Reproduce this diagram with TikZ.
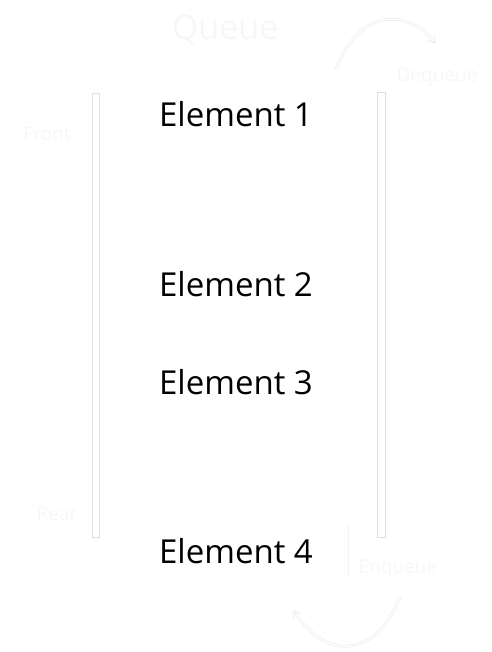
\documentclass[tikz,border=0pt]{standalone}
\usepackage{fontspec}
\setmainfont{Open Sans}
\usetikzlibrary{arrows.meta}
\tikzset{
  elem/.style={font=\fontsize{33}{40}\selectfont,text=black},
  faint/.style={font=\fontsize{19}{23}\selectfont,text=black!3},
  wall/.style={draw=black!13,fill=white,line width=0.7pt},
  flow/.style={draw=black!10,double=white,double distance=1.6pt,line width=0.5pt,-{Straight Barb[length=6pt,width=10pt]}}
}
\begin{document}
\begin{tikzpicture}[x=1pt,y=-1pt]
    \useasboundingbox (0,0) rectangle (491,652);
    \coordinate (O) at (0,0);

    % the two walls of the tube
    \draw[wall] (92,93) rectangle (99,537);
    \draw[wall] (377,92) rectangle (385,537);

    % elements
    \node[elem] (e1) at (236,114) {Element 1};
    \node[elem] (e2) at (236,284) {Element 2};
    \node[elem] (e3) at (236,382) {Element 3};
    \node[elem] (e4) at (236,551) {Element 4};

    % labels
    \node[faint,font=\fontsize{34}{40}\selectfont] (title) at (225,30) {Queue};
    \node[faint] (deq) at (437,77) {Dequeue};
    \node[faint] (enq) at (398,569) {Enqueue};
    \node[faint] (front) at (47,134) {Front};
    \node[faint] (rear) at (57,514) {Rear};

    % arrows in and out
    \coordinate (a1) at (336,70);
    \coordinate (a2) at (435,43);
    \coordinate (b1) at (400,597);
    \coordinate (b2) at (294,611);
    \draw[flow] (a1) .. controls (360,5) and (410,10) .. (a2);
    \draw[flow] (b1) .. controls (375,660) and (325,660) .. (b2);

    \draw[black!5,line width=0.6pt] (348,523) -- (348,575);
  \end{tikzpicture}
\end{document}
